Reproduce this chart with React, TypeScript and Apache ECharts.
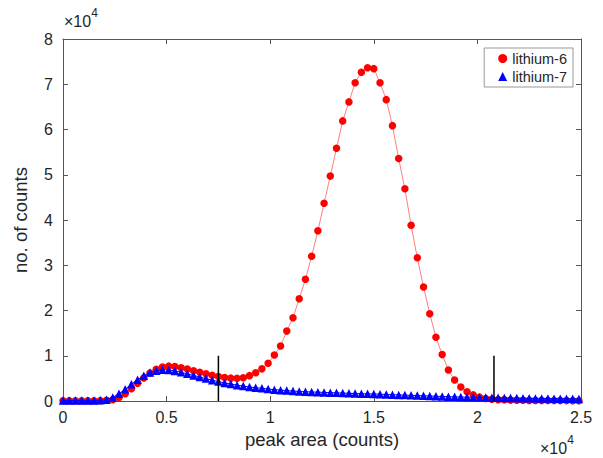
import React, { useEffect, useRef } from "react";
import * as echarts from "echarts";

const peakArea = [
  0, 300, 600, 900, 1200, 1500, 1800, 2100, 2400, 2700,
  3000, 3300, 3600, 3900, 4200, 4500, 4800, 5100, 5400, 5700,
  6000, 6300, 6600, 6900, 7200, 7500, 7800, 8100, 8400, 8700,
  9000, 9300, 9600, 9900, 10200, 10500, 10800, 11100, 11400, 11700,
  12000, 12300, 12600, 12900, 13200, 13500, 13800, 14100, 14400, 14700,
  15000, 15300, 15600, 15900, 16200, 16500, 16800, 17100, 17400, 17700,
  18000, 18300, 18600, 18900, 19200, 19500, 19800, 20100, 20400, 20700,
  21000, 21300, 21600, 21900, 22200, 22500, 22800, 23100, 23400, 23700,
  24000, 24300, 24600, 24900,
];

const lithium6 = [
  50, 50, 50, 50, 50, 60, 80, 150, 300, 800,
  1600, 2700, 3900, 5100, 6200, 7000, 7500, 7700, 7600, 7350,
  7050, 6700, 6350, 6000, 5700, 5400, 5200, 5050, 5000, 5150,
  5600, 6250, 7100, 8350, 10150, 12150, 15450, 18400, 22600, 26900,
  32000, 37600, 43700, 49700, 55850, 61900, 66100, 70350, 72650, 73650,
  73450, 70350, 66600, 60850, 53600, 46900, 38850, 31650, 25200, 19300,
  14100, 10250, 6850, 4650, 3100, 2050, 1350, 850, 550, 400,
  300, 250, 200, 180, 150, 130, 120, 110, 100, 100,
  90, 90, 80, 80,
];

const lithium7 = [
  100, 100, 100, 100, 100, 120, 150, 300, 800, 1600,
  2600, 3700, 4700, 5600, 6300, 6700, 6900, 6850, 6650, 6350,
  6000, 5650, 5300, 4950, 4600, 4300, 4000, 3750, 3500, 3300,
  3100, 2950, 2800, 2650, 2500, 2400, 2300, 2200, 2100, 2050,
  2000, 1950, 1900, 1850, 1800, 1750, 1700, 1650, 1620, 1580,
  1550, 1500, 1450, 1400, 1350, 1300, 1250, 1200, 1150, 1100,
  1050, 1000, 960, 920, 880, 850, 820, 790, 760, 730,
  700, 680, 660, 640, 620, 600, 580, 560, 540, 520,
  500, 490, 470, 450,
];

const thresholds = [7500, 20800];
const thresholdHeight = 10000;

const xTicks = [0, 5000, 10000, 15000, 20000, 25000];
const yTicks = [0, 10000, 20000, 30000, 40000, 50000, 60000, 70000, 80000];

const FONT = "Liberation Sans, Arial, sans-serif";
const TXT = "#262626";
const AXC = "#555555";

export default function App() {
  const ref = useRef<HTMLDivElement>(null);
  useEffect(() => {
    if (!ref.current) return;
    const chart = echarts.init(ref.current, null, { renderer: "svg" });
    const xMin = xTicks[0];
    const xMax = xTicks[xTicks.length - 1];
    const xInt = xTicks[1] - xTicks[0];
    const yMin = yTicks[0];
    const yMax = yTicks[yTicks.length - 1];
    const yInt = yTicks[1] - yTicks[0];
    const tickStyle = { inside: true, length: 5, lineStyle: { color: AXC, width: 1 } };
    const lineStyle = { color: AXC, width: 1 };
    const fmt = (v: number) => String(v / 10000);

    const series: any[] = [
      {
        name: "lithium-6",
        type: "line",
        data: peakArea.map((x, i) => [x, lithium6[i]]),
        symbol: "circle",
        symbolSize: 7.5,
        itemStyle: { color: "#ff0000" },
        lineStyle: { color: "rgba(255,0,0,0.5)", width: 1 },
        z: 3,
      },
      {
        name: "lithium-7",
        type: "line",
        data: peakArea.map((x, i) => [x, lithium7[i]]),
        symbol: "triangle",
        symbolSize: 8.5,
        itemStyle: { color: "#0000ff" },
        lineStyle: { color: "#0000ff", width: 1 },
        z: 4,
      },
    ];
    thresholds.forEach((t, k) => {
      series.push({
        name: "threshold" + k,
        type: "line",
        data: [
          [t, 0],
          [t, thresholdHeight],
        ],
        symbol: "none",
        lineStyle: { color: "#000000", width: 1.5 },
        z: 5,
      });
    });

    const expRich = {
      a: { fontSize: 16, fontFamily: FONT, fill: TXT, padding: [6, 0, 0, 0] },
      b: { fontSize: 12, fontFamily: FONT, fill: TXT, verticalAlign: "top" },
    };

    chart.setOption({
      animation: false,
      backgroundColor: "#ffffff",
      grid: { left: 63, top: 39, right: 22, bottom: 57 },
      xAxis: [
        {
          type: "value",
          min: xMin,
          max: xMax,
          interval: xInt,
          axisLine: { show: true, onZero: false, lineStyle },
          axisTick: tickStyle,
          axisLabel: { formatter: fmt, fontSize: 16, color: TXT, fontFamily: FONT, margin: 8 },
          splitLine: { show: false },
          name: "peak area (counts)",
          nameLocation: "middle",
          nameGap: 27,
          nameTextStyle: { fontSize: 18.5, color: TXT, fontFamily: FONT },
        },
        {
          type: "value",
          position: "top",
          min: xMin,
          max: xMax,
          interval: xInt,
          axisLine: { show: true, onZero: false, lineStyle },
          axisTick: tickStyle,
          axisLabel: { show: false },
          splitLine: { show: false },
        },
      ],
      yAxis: [
        {
          type: "value",
          min: yMin,
          max: yMax,
          interval: yInt,
          axisLine: { show: true, onZero: false, lineStyle },
          axisTick: tickStyle,
          axisLabel: { formatter: fmt, fontSize: 16, color: TXT, fontFamily: FONT, margin: 10 },
          splitLine: { show: false },
          name: "no. of counts",
          nameLocation: "middle",
          nameGap: 33,
          nameTextStyle: { fontSize: 18.5, color: TXT, fontFamily: FONT },
        },
        {
          type: "value",
          position: "right",
          min: yMin,
          max: yMax,
          interval: yInt,
          axisLine: { show: true, onZero: false, lineStyle },
          axisTick: tickStyle,
          axisLabel: { show: false },
          splitLine: { show: false },
        },
      ],
      legend: {
        data: [
          { name: "lithium-6", icon: "circle" },
          { name: "lithium-7", icon: "triangle" },
        ],
        orient: "vertical",
        right: 30,
        top: 48,
        itemWidth: 9,
        itemHeight: 9,
        itemGap: 3,
        padding: [3, 6, 3, 14],
        borderColor: "#999999",
        borderWidth: 1,
        backgroundColor: "#ffffff",
        textStyle: { fontSize: 14.5, color: TXT, fontFamily: FONT },
      },
      graphic: [
        {
          type: "text",
          left: 64,
          top: 7,
          style: { text: "{a|×10}{b|4}", rich: expRich },
        },
        {
          type: "text",
          left: 540,
          top: 434,
          style: { text: "{a|×10}{b|4}", rich: expRich },
        },
      ],
      series,
    });
    return () => chart.dispose();
  }, []);
  return (
    <div
      ref={ref}
      style={{ position: "fixed", left: 0, top: 0, width: 603, height: 458 }}
    />
  );
}
